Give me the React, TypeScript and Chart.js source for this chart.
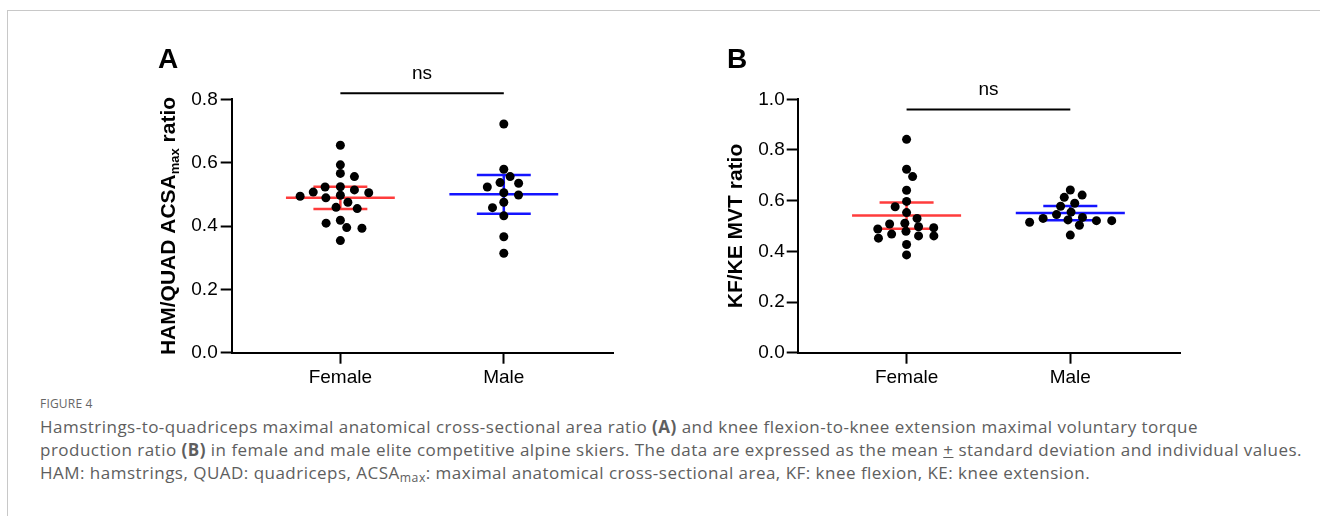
import React, { useEffect, useRef } from "react";
import { Chart, registerables } from "chart.js";

Chart.register(...registerables);

// ---------- data ----------
const categories = ["Female", "Male"];

const femaleA = [0.655, 0.593, 0.566, 0.556, 0.524, 0.523, 0.514, 0.507, 0.505, 0.497, 0.494, 0.489, 0.475, 0.459, 0.455, 0.418, 0.409, 0.395, 0.393, 0.354];
const maleA = [0.722, 0.579, 0.556, 0.535, 0.537, 0.523, 0.505, 0.498, 0.475, 0.458, 0.432, 0.366, 0.314];
const meansA = [0.489, 0.5];
const sdsA = [0.035, 0.061];
const ticksA = [0, 0.2, 0.4, 0.6, 0.8];
const sigLevelA = 0.819;

const femaleB = [0.842, 0.724, 0.695, 0.641, 0.597, 0.576, 0.553, 0.53, 0.511, 0.508, 0.497, 0.493, 0.488, 0.479, 0.468, 0.461, 0.461, 0.452, 0.427, 0.386];
const maleB = [0.642, 0.622, 0.613, 0.59, 0.578, 0.555, 0.545, 0.534, 0.53, 0.524, 0.521, 0.521, 0.515, 0.503, 0.464];
const meansB = [0.541, 0.551];
const sdsB = [0.052, 0.028];
const ticksB = [0, 0.2, 0.4, 0.6, 0.8, 1.0];
const sigLevelB = 0.96;

const sigLabel = "ns";

// ---------- styling ----------
const FONT = '"Liberation Sans", Arial, Helvetica, sans-serif';
const groupColors = ["#ff3c3c", "#1414ff"];

type Panel = {
  letter: string;
  titleMain: string;
  titleSub: string;
  titleEnd: string;
  groups: number[][];
  means: number[];
  sds: number[];
  yTicks: number[];
  sig: number;
  yAxisWidth: number;
  padRight: number;
  titleX: number;
  letterX: number;
  tickPad: number;
};

const panels: Panel[] = [
  {
    letter: "A",
    titleMain: "HAM/QUAD ACSA",
    titleSub: "max",
    titleEnd: " ratio",
    groups: [femaleA, maleA],
    means: meansA,
    sds: sdsA,
    yTicks: ticksA,
    sig: sigLevelA,
    yAxisWidth: 81.7,
    padRight: 16.7,
    titleX: 19,
    letterX: 8,
    tickPad: 3,
  },
  {
    letter: "B",
    titleMain: "KF/KE MVT ratio",
    titleSub: "",
    titleEnd: "",
    groups: [femaleB, maleB],
    means: meansB,
    sds: sdsB,
    yTicks: ticksB,
    sig: sigLevelB,
    yAxisWidth: 77.7,
    padRight: 20,
    titleX: 16.7,
    letterX: 7,
    tickPad: 2,
  },
];

// beeswarm layout (pixel space), returns horizontal offsets in px
function swarm(values: number[], yPx: number, sx: number, sy: number): number[] {
  const idx = values.map((_, i) => i).sort((a, b) => values[b] - values[a]);
  const placed: { x: number; y: number }[] = [];
  const out = new Array(values.length).fill(0);
  let flip = 1;
  for (const i of idx) {
    const y = values[i] * yPx;
    const near = placed.filter((p) => Math.abs(p.y - y) < sy);
    const cands = [0];
    for (const p of near) {
      const dy = (p.y - y) / sy;
      const dx = sx * Math.sqrt(Math.max(0, 1 - dy * dy));
      cands.push(p.x + dx, p.x - dx);
    }
    const ok = cands.filter((c) =>
      near.every((p) => {
        const dx = (c - p.x) / sx;
        const dy = (y - p.y) / sy;
        return dx * dx + dy * dy >= 0.995;
      })
    );
    ok.sort((a, b) => {
      const d = Math.abs(a) - Math.abs(b);
      if (Math.abs(d) > 0.01) return d;
      return flip * (b - a);
    });
    const chosen = ok[0];
    if (chosen !== 0) flip = chosen > 0 ? -1 : 1;
    out[i] = chosen;
    placed.push({ x: chosen, y });
  }
  return out;
}

function errorBarData(g: number, mean: number, sd: number) {
  const c = g + 1;
  const half = 0.333;
  const cap = 0.165;
  return [
    { x: c - half, y: mean },
    { x: c + half, y: mean },
    { x: NaN, y: null },
    { x: c - cap, y: mean + sd },
    { x: c + cap, y: mean + sd },
    { x: NaN, y: null },
    { x: c - cap, y: mean - sd },
    { x: c + cap, y: mean - sd },
    { x: NaN, y: null },
    { x: c, y: mean - sd },
    { x: c, y: mean + sd },
  ];
}

function makeChart(canvas: HTMLCanvasElement, panel: Panel) {
  const yMax = panel.yTicks[panel.yTicks.length - 1];
  const pointSets: any[] = panel.groups.map((vals, g) => ({
    type: "scatter",
    data: vals.map((v) => ({ x: g + 1, y: v })),
    pointRadius: 4.5,
    pointHoverRadius: 4.5,
    pointBackgroundColor: "#000",
    pointBorderWidth: 0,
    showLine: false,
    order: 0,
  }));
  const barSets: any[] = panel.groups.map((_, g) => ({
    type: "scatter",
    data: errorBarData(g, panel.means[g], panel.sds[g]),
    showLine: true,
    spanGaps: false,
    borderColor: groupColors[g],
    borderWidth: 2.5,
    pointRadius: 0,
    pointHoverRadius: 0,
    borderCapStyle: "butt",
    order: 1,
  }));

  const annot = {
    id: "annot" + panel.letter,
    afterDraw(chart: any) {
      const { ctx, chartArea } = chart;
      const xs = chart.scales.x;
      const ys = chart.scales.y;
      ctx.save();
      ctx.fillStyle = "#000";
      // panel letter
      ctx.font = `bold 28px ${FONT}`;
      ctx.textAlign = "left";
      ctx.textBaseline = "alphabetic";
      ctx.fillText(panel.letter, panel.letterX, 28);
      // significance bracket
      const x1 = xs.getPixelForValue(1);
      const x2 = xs.getPixelForValue(2);
      const yb = ys.getPixelForValue(panel.sig);
      ctx.strokeStyle = "#000";
      ctx.lineWidth = 2;
      ctx.beginPath();
      ctx.moveTo(x1, yb);
      ctx.lineTo(x2, yb);
      ctx.stroke();
      ctx.font = `19px ${FONT}`;
      ctx.textAlign = "center";
      ctx.textBaseline = "middle";
      ctx.fillText(sigLabel, (x1 + x2) / 2, yb - 19.5);
      // y title with subscript
      const mainFont = `bold 21px ${FONT}`;
      const subFont = `bold 13px ${FONT}`;
      ctx.font = mainFont;
      const w1 = ctx.measureText(panel.titleMain).width;
      const w3 = ctx.measureText(panel.titleEnd).width;
      ctx.font = subFont;
      const w2 = panel.titleSub ? ctx.measureText(panel.titleSub).width : 0;
      const total = w1 + w2 + w3;
      ctx.translate(panel.titleX, (chartArea.top + chartArea.bottom) / 2);
      ctx.rotate(-Math.PI / 2);
      ctx.textAlign = "left";
      ctx.textBaseline = "middle";
      let pos = -total / 2;
      ctx.font = mainFont;
      ctx.fillText(panel.titleMain, pos, 0);
      pos += w1;
      if (panel.titleSub) {
        ctx.font = subFont;
        ctx.fillText(panel.titleSub, pos, 6);
        pos += w2;
      }
      ctx.font = mainFont;
      if (panel.titleEnd) ctx.fillText(panel.titleEnd, pos, 0);
      ctx.restore();
    },
  };

  const chart = new Chart(canvas, {
    type: "scatter",
    data: { datasets: [...pointSets, ...barSets] },
    options: {
      animation: false,
      responsive: false,
      maintainAspectRatio: false,
      events: [],
      layout: { padding: { top: 59.3, left: 0, right: panel.padRight, bottom: 0 } },
      plugins: { legend: { display: false }, tooltip: { enabled: false } },
      scales: {
        x: {
          type: "linear",
          min: 0.335,
          max: 2.67,
          afterBuildTicks: (scale: any) => {
            scale.ticks = categories.map((_, i) => ({ value: i + 1 }));
          },
          afterFit: (scale: any) => {
            scale.height = 37.3;
          },
          ticks: {
            autoSkip: false,
            maxRotation: 0,
            padding: 3,
            color: "#000",
            font: { family: FONT, size: 19 },
            callback: (v: any) => categories[Math.round(Number(v)) - 1] ?? "",
          },
          grid: {
            display: true,
            drawOnChartArea: false,
            drawTicks: true,
            tickLength: 11,
            tickWidth: 2,
            tickColor: "#000",
          },
          border: { display: true, color: "#000", width: 2 },
        },
        y: {
          type: "linear",
          min: 0,
          max: yMax,
          afterBuildTicks: (scale: any) => {
            scale.ticks = panel.yTicks.map((v) => ({ value: v }));
          },
          afterFit: (scale: any) => {
            scale.width = panel.yAxisWidth;
          },
          ticks: {
            padding: panel.tickPad,
            color: "#000",
            font: { family: FONT, size: 19 },
            callback: (v: any) => Number(v).toFixed(1),
          },
          grid: {
            display: true,
            drawOnChartArea: false,
            drawTicks: true,
            tickLength: 11,
            tickWidth: 2,
            tickColor: "#000",
          },
          border: { display: true, color: "#000", width: 2 },
        },
      },
    } as any,
    plugins: [annot],
  });

  // lay out the swarms using the chart's own scales
  const xs: any = chart.scales.x;
  const ys: any = chart.scales.y;
  const yPx = ys.getPixelForValue(0) - ys.getPixelForValue(1);
  const xPx = xs.getPixelForValue(1) - xs.getPixelForValue(0);
  panel.groups.forEach((vals, g) => {
    const off = swarm(vals, yPx, 15.3, 8);
    (chart.data.datasets[g] as any).data = vals.map((v, i) => ({ x: g + 1 + off[i] / xPx, y: v }));
  });
  chart.update();
  return chart;
}

function PanelChart({ panel, left }: { panel: Panel; left: number }) {
  const ref = useRef<HTMLCanvasElement | null>(null);
  useEffect(() => {
    if (!ref.current) return;
    const chart = makeChart(ref.current, panel);
    return () => chart.destroy();
  }, [panel]);
  return (
    <canvas
      ref={ref}
      width={480}
      height={350}
      style={{ position: "absolute", left, top: 40, width: 480, height: 350 }}
    />
  );
}

export default function App() {
  return (
    <div
      style={{
        position: "absolute",
        left: 0,
        top: 0,
        width: 1320,
        height: 516,
        background: "#fff",
        overflow: "hidden",
      }}
    >
      <div
        style={{
          position: "absolute",
          left: 7,
          top: 10,
          width: 1400,
          height: 600,
          borderTop: "1px solid #c8c8c8",
          borderLeft: "1px solid #c8c8c8",
        }}
      />
      <PanelChart panel={panels[0]} left={150} />
      <PanelChart panel={panels[1]} left={720} />
      <div
        style={{
          position: "absolute",
          left: 40,
          top: 396,
          fontFamily: '"Open Sans", sans-serif',
          fontSize: 12,
          lineHeight: "16px",
          color: "#666",
          letterSpacing: "0.2px",
        }}
      >
        FIGURE 4
      </div>
      <div
        style={{
          position: "absolute",
          left: 40,
          top: 415,
          width: 1278,
          fontFamily: '"Open Sans", sans-serif',
          fontSize: 17,
          letterSpacing: "0.48px",
          lineHeight: "23px",
          color: "#5e5e5e",
          whiteSpace: "nowrap",
        }}
      >
        Hamstrings-to-quadriceps maximal anatomical cross-sectional area ratio <b>(A)</b> and knee flexion-to-knee
        extension maximal voluntary torque
        <br />
        production ratio <b>(B)</b> in female and male elite competitive alpine skiers. The data are expressed as the
        mean <u>+</u> standard deviation and individual values.
        <br />
        HAM: hamstrings, QUAD: quadriceps, ACSA<sub style={{ fontSize: "0.72em", verticalAlign: "-0.25em", lineHeight: 0 }}>max</sub>: maximal anatomical
        cross-sectional area, KF: knee flexion, KE: knee extension.
      </div>
    </div>
  );
}
